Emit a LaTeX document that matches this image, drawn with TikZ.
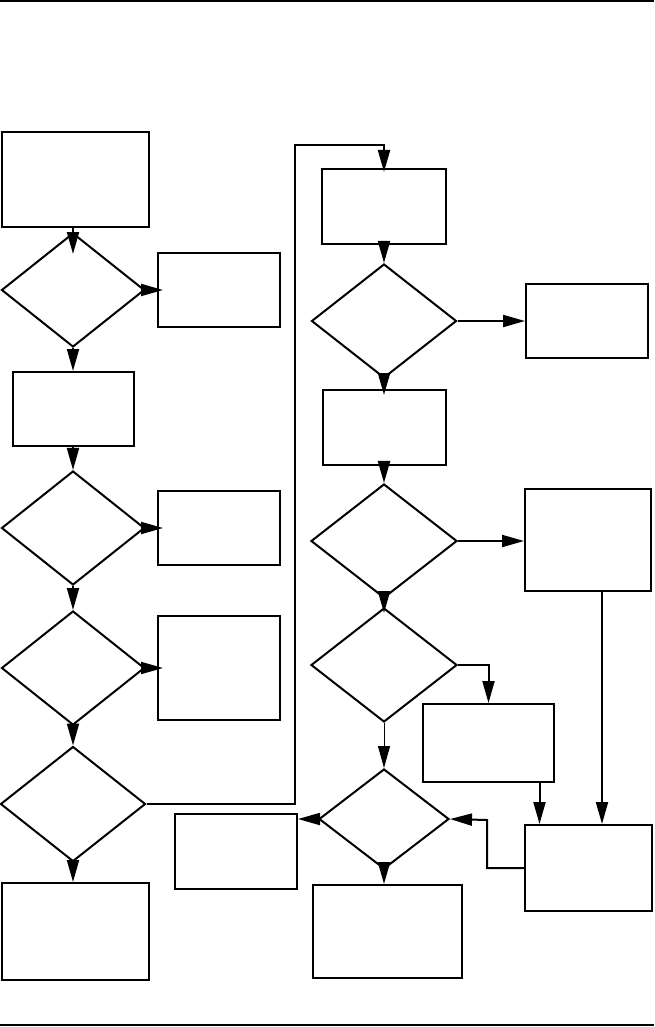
\documentclass[tikz,border=0pt]{standalone}
\usetikzlibrary{shapes.geometric,arrows.meta}

\begin{document}
\begin{tikzpicture}[x=1pt, y=-1pt,
    box/.style={draw, rectangle, line width=2pt, inner sep=0pt},
    decision/.style={draw, diamond, line width=2pt, inner sep=0pt},
    flow/.style={line width=2pt, -{Triangle[length=22pt,width=12pt]}},
    over/.style={shorten >=-6pt}]
    \useasboundingbox (0,0) rectangle (654,1027);

    % page rules
    \draw[line width=1.3pt] (0,1) -- (654,1);
    \draw[line width=1.3pt] (0,1025) -- (654,1025);

    % left column
    \node[box, minimum width=147pt, minimum height=95pt] (start) at (75.5,179.5) {};
    \node[decision, minimum width=143pt, minimum height=114pt] (q1) at (73,290) {};
    \node[box, minimum width=122pt, minimum height=74pt] (r1) at (219,290) {};
    \node[box, minimum width=121pt, minimum height=74pt] (s1) at (73,409) {};
    \node[decision, minimum width=143pt, minimum height=114pt] (q2) at (73,528) {};
    \node[box, minimum width=122pt, minimum height=74pt] (r2) at (219,528) {};
    \node[decision, minimum width=143pt, minimum height=114pt] (q3) at (73,668) {};
    \node[box, minimum width=122pt, minimum height=104pt] (r3) at (219,668) {};
    \node[decision, minimum width=145pt, minimum height=115pt] (q4) at (73,804) {};
    \node[box, minimum width=147pt, minimum height=97pt] (stop) at (75.5,931.5) {};

    % right column
    \node[box, minimum width=124pt, minimum height=75pt] (t1) at (384,206.5) {};
    \node[decision, minimum width=145pt, minimum height=114pt] (q5) at (384,321) {};
    \node[box, minimum width=122pt, minimum height=74pt] (r5) at (587,321) {};
    \node[box, minimum width=123pt, minimum height=75pt] (t2) at (384,427.5) {};
    \node[decision, minimum width=146pt, minimum height=114pt] (q6) at (384,541) {};
    \node[box, minimum width=126pt, minimum height=102pt] (r6) at (588,540) {};
    \node[decision, minimum width=146pt, minimum height=114pt] (q7) at (384,665) {};
    \node[box, minimum width=131pt, minimum height=78pt] (r7) at (488.5,743) {};
    \node[decision, minimum width=130pt, minimum height=100pt] (q8) at (384,819) {};
    \node[box, minimum width=122pt, minimum height=75pt] (r8) at (236,851.5) {};
    \node[box, minimum width=127pt, minimum height=86pt] (merge) at (588.5,868) {};
    \node[box, minimum width=149pt, minimum height=93pt] (fin) at (387.5,931.5) {};

    \coordinate (loop) at (295,145);
    \coordinate (bend) at (487,820);

    \draw[flow, shorten >=-22pt] (q1.north |- start.south) -- (q1.north);
    \draw[flow, over] (q1) -- (r1);
    \draw[flow] (q1) -- (s1);
    \draw[flow] (s1) -- (q2);
    \draw[flow, over] (q2) -- (r2);
    \draw[flow] (q2) -- (q3);
    \draw[flow, over] (q3) -- (r3);
    \draw[flow] (q3) -- (q4);
    \draw[flow] (q4.south) -- (q4.south |- stop.north);
    \draw[flow, shorten >=-4pt] (q4.east) -| (loop) -| (t1.north);

    \draw[flow] (t1) -- (q5);
    \draw[flow] (q5) -- (r5);
    \draw[flow, over] (q5) -- (t2);
    \draw[flow] (t2) -- (q6);
    \draw[flow] (q6.east) -- (q6.east -| r6.west);
    \draw[flow, shorten >=-6pt] (q6) -- (q7);
    \draw[flow] (q7.east) -| (r7.north);
    \draw[flow, line width=1pt] (q7) -- (q8);
    \draw[flow] (q8.west) -- (q8.west -| r8.east);
    \draw[flow] (q8.south) -- (q8.south |- fin.north);
    \draw[flow] ([xshift=51pt]r7.south) -- ([xshift=51pt]r7.south |- merge.north);
    \draw[flow] ([xshift=14pt]r6.south) -- ([xshift=14pt]r6.south |- merge.north);
    \draw[flow] (merge.west) -| (bend) -- (q8.east);
\end{tikzpicture}
\end{document}
